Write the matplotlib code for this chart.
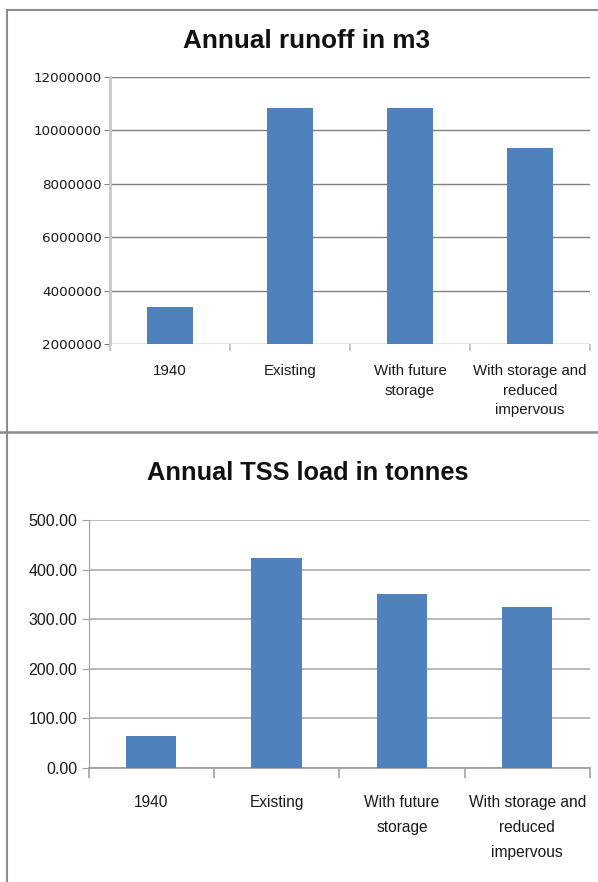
import matplotlib
matplotlib.use("Agg")
import matplotlib.pyplot as plt
from matplotlib import font_manager as fm
from matplotlib.lines import Line2D

categories_top = ["1940", "Existing", "With future\nstorage", "With storage and\nreduced\nimpervous"]
runoff_m3 = [3390000, 10840000, 10840000, 9340000]
runoff_ticks = [2000000, 4000000, 6000000, 8000000, 10000000, 12000000]

categories_bottom = ["1940", "Existing", "With future\nstorage", "With storage and\nreduced\nimpervous"]
tss_tonnes = [64.5, 423.0, 350.0, 324.6]
tss_ticks = [0, 100, 200, 300, 400, 500]

available = {f.name for f in fm.fontManager.ttflist}
NARROW = "Liberation Sans Narrow" if "Liberation Sans Narrow" in available else "Liberation Sans"

BAR = "#4F81BD"
W, H = 598, 882
fig = plt.figure(figsize=(W / 100, H / 100), dpi=100)

def fx(px):
    return px / W

def fy(py):
    return 1 - py / H

# panel frames
fig.add_artist(Line2D([fx(7), fx(7)], [fy(10), fy(432)], color="#8c8c8c", lw=1.5))
fig.add_artist(Line2D([fx(7), 1], [fy(10), fy(10)], color="#8c8c8c", lw=1.5))
fig.add_artist(Line2D([0, 1], [fy(431.5), fy(431.5)], color="#8c8c8c", lw=1.8))
fig.add_artist(Line2D([fx(7), fx(7)], [fy(432), 0], color="#8c8c8c", lw=1.5))

# ---- top chart ----
ax1 = fig.add_axes([fx(110), fy(344), fx(590) - fx(110), fy(77) - fy(344)])
x = list(range(len(categories_top)))
ax1.bar(x, runoff_m3, width=0.39, color=BAR, zorder=3)
ax1.set_xlim(-0.5, 3.5)
ax1.set_ylim(2000000, 12000000)
ax1.set_yticks(runoff_ticks)
ax1.set_yticklabels([str(v) for v in runoff_ticks], fontsize=9.7, family="DejaVu Sans", color="#1a1a1a")
ax1.yaxis.grid(True, color="#808080", lw=1.0, zorder=0)
ax1.set_axisbelow(True)
ax1.tick_params(axis="y", length=4, color="#808080", pad=2)
ax1.set_xticks(x)
ax1.set_xticklabels(categories_top, fontsize=10.8, family=NARROW, color="#1a1a1a", linespacing=1.5, va="top")
ax1.tick_params(axis="x", which="major", length=0, pad=14.5)
ax1.set_xticks([-0.5, 0.5, 1.5, 2.5, 3.5], minor=True)
ax1.tick_params(axis="x", which="minor", length=5, color="#c8c8c8", width=1.5)
for s in ["top", "right", "bottom"]:
    ax1.spines[s].set_visible(False)
ax1.spines["left"].set_color("#c8c8c8")
ax1.spines["left"].set_linewidth(2)
fig.text(fx(307), fy(41), "Annual runoff in m3", ha="center", va="center",
         fontsize=18.8, fontweight="bold", family=NARROW, color="#111111")

# ---- bottom chart ----
ax2 = fig.add_axes([fx(88.5), fy(768), fx(590) - fx(88.5), fy(520) - fy(768)])
x2 = list(range(len(categories_bottom)))
ax2.bar(x2, tss_tonnes, width=0.4, color=BAR, zorder=3)
ax2.set_xlim(-0.5, 3.5)
ax2.set_ylim(0, 500)
ax2.set_yticks(tss_ticks)
ax2.set_yticklabels([f"{v:.2f}" for v in tss_ticks], fontsize=11.5, family=NARROW, color="#1a1a1a")
ax2.yaxis.grid(True, color="#b4b4b4", lw=1.3, zorder=0)
ax2.set_axisbelow(True)
ax2.tick_params(axis="y", length=5, color="#a0a0a0", pad=3)
ax2.set_xticks(x2)
ax2.set_xticklabels(categories_bottom, fontsize=11.2, family=NARROW, color="#1a1a1a", linespacing=1.85, va="top")
ax2.tick_params(axis="x", which="major", length=0, pad=19.5)
ax2.set_xticks([-0.5, 0.5, 1.5, 2.5, 3.5], minor=True)
ax2.tick_params(axis="x", which="minor", length=7, color="#a0a0a0", width=1.2)
for s in ["top", "right"]:
    ax2.spines[s].set_visible(False)
ax2.spines["left"].set_color("#a0a0a0")
ax2.spines["bottom"].set_color("#a0a0a0")
ax2.spines["bottom"].set_linewidth(1.3)
fig.text(fx(307.5), fy(473), "Annual TSS load in tonnes", ha="center", va="center",
         fontsize=18.3, fontweight="bold", family=NARROW, color="#111111")

fig.savefig("out.png", dpi=100, facecolor="white")
